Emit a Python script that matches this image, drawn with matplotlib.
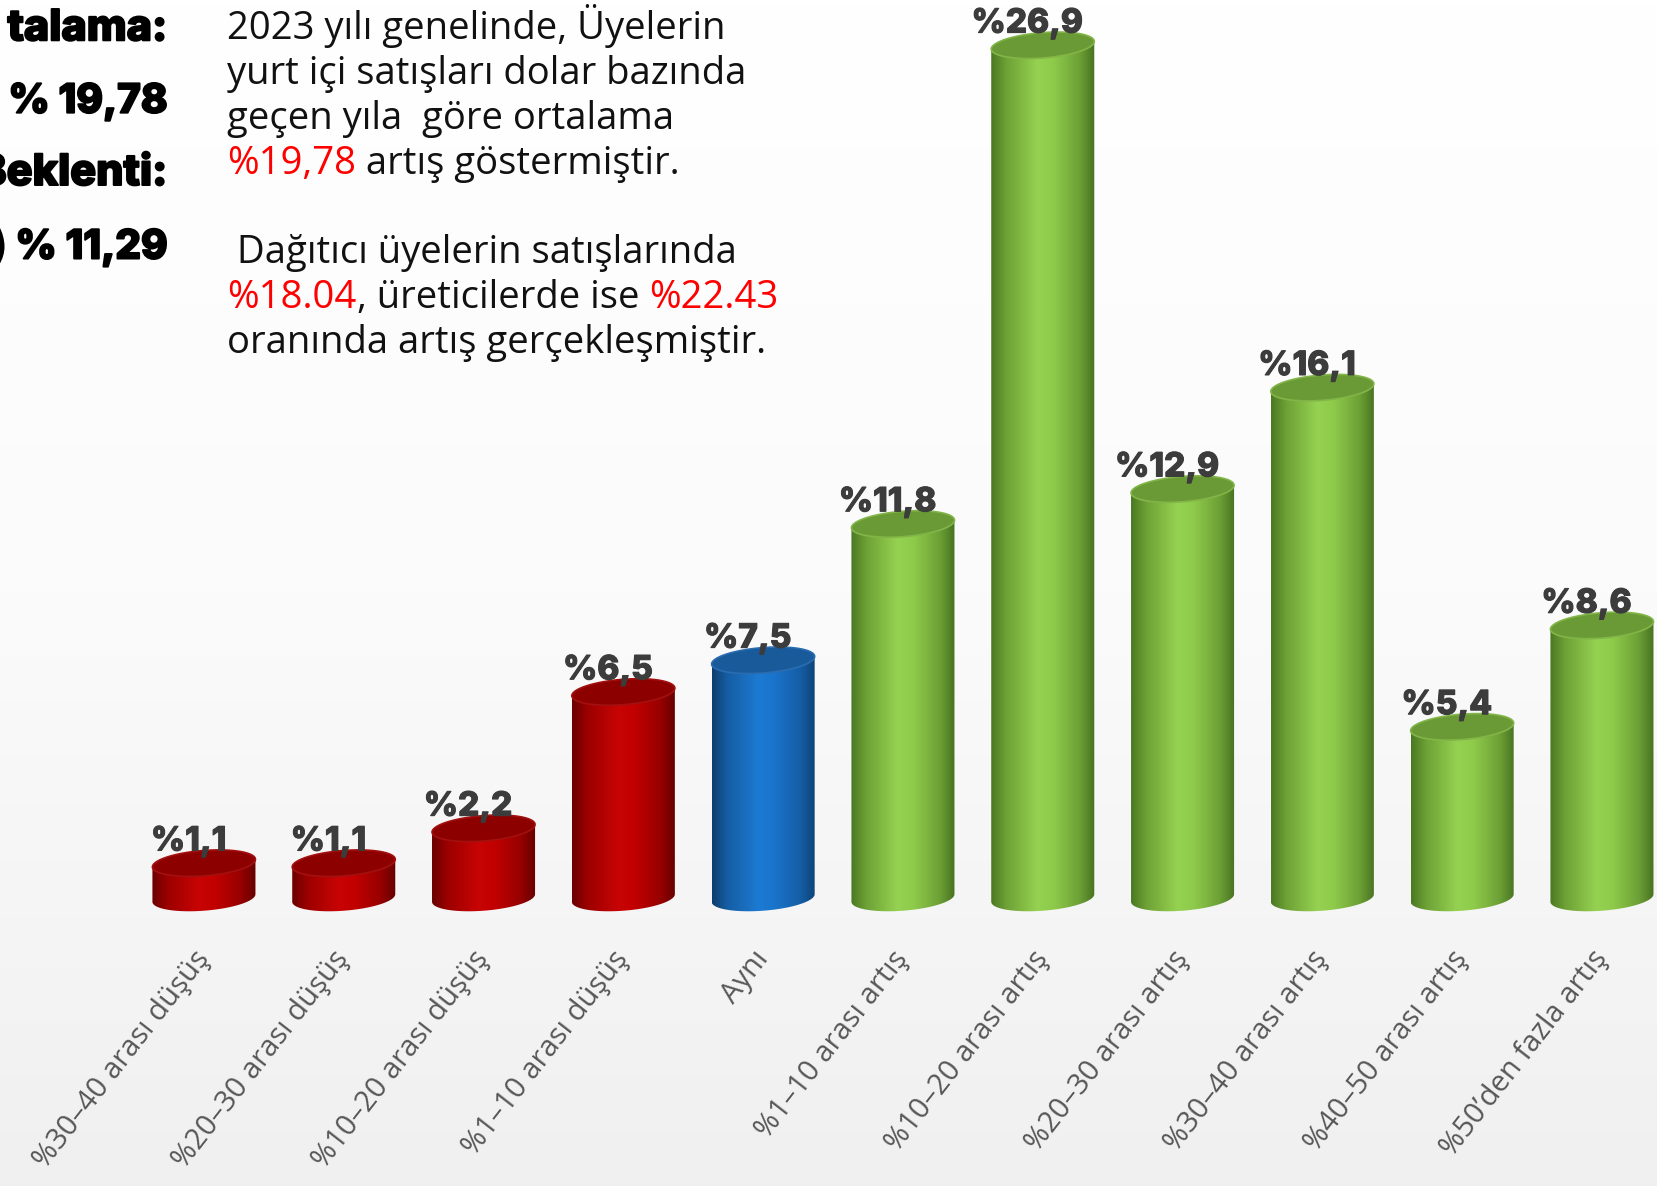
import matplotlib
matplotlib.use("Agg")
import matplotlib.pyplot as plt
import matplotlib.patheffects as pe
import numpy as np
from matplotlib.colors import LinearSegmentedColormap
from matplotlib.patches import Polygon

plt.rcParams['font.family'] = ['Open Sans', 'DejaVu Sans']

# --- veriler ---
kategoriler = ['%30–40 arası düşüş', '%20–30 arası düşüş', '%10–20 arası düşüş',
               '%1–10 arası düşüş', 'Aynı', '%1–10 arası artış', '%10–20 arası artış',
               '%20–30 arası artış', '%30–40 arası artış', '%40–50 arası artış',
               '%50’den fazla artış']
oranlar = [1.1, 1.1, 2.2, 6.5, 7.5, 11.8, 26.9, 12.9, 16.1, 5.4, 8.6]
gruplar = ['düşüş', 'düşüş', 'düşüş', 'düşüş', 'aynı',
           'artış', 'artış', 'artış', 'artış', 'artış', 'artış']

renkler = {
    'düşüş': (['#6a0000', '#9c0000', '#c80404', '#c20000', '#980000', '#660000'], '#8c0000', '#a31010'),
    'aynı': (['#0e3d6e', '#165ea4', '#1d7ad2', '#1a74cb', '#155ea6', '#0e4275'], '#195a9a', '#2a6cb0'),
    'artış': (['#4b7823', '#6ea236', '#96d251', '#8fcb4b', '#6da136', '#487221'], '#6a9a35', '#82b548'),
}

fig = plt.figure(figsize=(16.58, 11.86), dpi=100)

# arka plan
bg = fig.add_axes([0, 0, 1, 1], zorder=0)
grad = np.linspace(0, 1, 256).reshape(-1, 1)
bg.imshow(grad, extent=[0, 1, 0, 1], aspect='auto',
          cmap=LinearSegmentedColormap.from_list('bg', ['#f0f0f0', '#fbfbfb', '#ffffff']),
          origin='lower')
bg.axis('off')

# grafik eksenleri
x0, aralik = 0.1230, 0.08432
taban, birim = 0.2428, 0.02673
ymin = -0.8
ymax = (1 - taban) / birim
left = x0 - 0.5 * aralik
ax = fig.add_axes([left, taban + ymin * birim, 1 - left, (ymax - ymin) * birim], zorder=1)
ax.patch.set_alpha(0)

x = np.arange(len(oranlar))
cubuklar = ax.bar(x, oranlar, width=0.737, color='none', edgecolor='none')

b, k = 0.40, 0.12
t1 = np.linspace(np.pi, 2 * np.pi, 60)
t2 = np.linspace(0, np.pi, 60)
tt = np.linspace(0, 2 * np.pi, 120)
kalin = [pe.withStroke(linewidth=0.8, foreground='#3c3c3c')]
for rect, grup, v in zip(cubuklar, gruplar, oranlar):
    a = rect.get_width() / 2
    xc = rect.get_x() + a
    h = rect.get_height()
    cols, ust, kenar = renkler[grup]
    alt_x = xc + a * np.cos(t1)
    alt_y = b * np.sin(t1) + k * np.cos(t1)
    ust_x = xc + a * np.cos(t2)
    ust_y = h + b * np.sin(t2) + k * np.cos(t2)
    govde = Polygon(np.column_stack([np.r_[alt_x, ust_x], np.r_[alt_y, ust_y]]),
                    closed=True, facecolor='none', edgecolor='none', transform=ax.transData)
    ax.add_patch(govde)
    cmap = LinearSegmentedColormap.from_list('c', list(zip([0, 0.15, 0.45, 0.6, 0.85, 1], cols)))
    im = ax.imshow(np.linspace(0, 1, 256).reshape(1, -1), cmap=cmap, aspect='auto',
                   extent=[xc - a, xc + a, -b - k - 0.1, h + b + k + 0.1],
                   interpolation='bicubic', zorder=2)
    im.set_clip_path(govde)
    kapak = Polygon(np.column_stack([xc + a * np.cos(tt), h + b * np.sin(tt) + k * np.cos(tt)]),
                    closed=True, facecolor=ust, edgecolor=kenar, lw=1.2, zorder=3)
    ax.add_patch(kapak)
    ax.text(xc - 0.11, h + 0.4, '%' + str(v).replace('.', ','), ha='center', va='baseline',
            fontsize=24, fontweight='heavy', color='#3c3c3c', zorder=4,
            family=['Inter', 'DejaVu Sans'], path_effects=kalin)

ax.set_xlim(-0.5, -0.5 + (1 - left) / aralik)
ax.set_ylim(ymin, ymax)
ax.set_xticks(x)
ax.set_xticklabels(kategoriler, rotation=52, ha='right', va='center',
                   rotation_mode='anchor', fontsize=21, color='#575757')
ax.tick_params(axis='x', length=0, pad=22)
ax.set_yticks([])
for s in ax.spines.values():
    s.set_visible(False)

# sol kesik yazılar
for metin, y, boy in [('talama:', 0.966, 31), (') % 19,78', 0.905, 29),
                      ('Beklenti:', 0.844, 31), (') % 11,29', 0.782, 29)]:
    fig.text(0.101, y, metin, ha='right', va='baseline', fontsize=boy, fontweight='heavy',
             color='black', family=['Inter', 'DejaVu Sans'],
             path_effects=[pe.withStroke(linewidth=1.4, foreground='black')])

# açıklama metni
r = fig.canvas.get_renderer()


def satir(x, y, parcalar):
    for s, c in parcalar:
        t = fig.text(x, y, s, color=c, fontsize=27.5, va='baseline', ha='left')
        x += t.get_window_extent(renderer=r).width / fig.bbox.width


siyah, kirmizi = '#111111', '#ff0000'
satirlar = [
    [('2023 yılı genelinde, Üyelerin', siyah)],
    [('yurt içi satışları dolar bazında', siyah)],
    [('geçen yıla  göre ortalama', siyah)],
    [('%19,78', kirmizi), (' artış göstermiştir.', siyah)],
    [],
    [(' Dağıtıcı üyelerin satışlarında', siyah)],
    [('%18.04', kirmizi), (', üreticilerde ise ', siyah), ('%22.43', kirmizi)],
    [('oranında artış gerçekleşmiştir.', siyah)],
]
for i, p in enumerate(satirlar):
    satir(0.137, 0.967 - i * 0.0378, p)

fig.savefig('out.png', dpi=100)
